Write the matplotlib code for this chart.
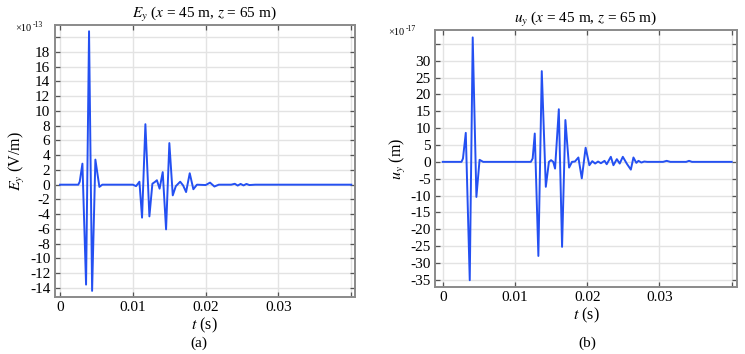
import numpy as np
import matplotlib
matplotlib.use("Agg")
import matplotlib.pyplot as plt

# --- data (Ey in 1e-13 V/m, uy in 1e-17 m) ---
t_e = [0, 0.0025, 0.0027, 0.00307, 0.00357, 0.00398, 0.0044, 0.00485, 0.0054, 0.0058,
       0.0100, 0.01044, 0.0109, 0.01126, 0.01172, 0.01227, 0.01268, 0.0130, 0.0133,
       0.01367, 0.0141, 0.01456, 0.01501, 0.01548, 0.0159, 0.0165, 0.0169, 0.01731,
       0.01781, 0.01831, 0.0188, 0.0200, 0.0206, 0.0212, 0.0218, 0.0235, 0.0240,
       0.0244, 0.0248, 0.0252, 0.0256, 0.0260, 0.0268, 0.0400]
ey = [0, 0, 0.4, 2.85, -13.55, 20.8, -14.4, 3.4, -0.3, 0,
      0, -0.2, 0.4, -4.47, 8.2, -4.3, 0.13, 0.35, 0.6,
      -0.54, 1.7, -6.06, 5.64, -1.45, -0.2, 0.4, -0.1, -1.0,
      1.55, -0.62, 0, -0.05, 0.28, -0.25, 0, 0, 0.12,
      -0.12, 0.1, -0.1, 0.1, -0.05, 0, 0]

t_u = [0, 0.0026, 0.0028, 0.00319, 0.00374, 0.00415, 0.00466, 0.0051, 0.0056,
       0.0122, 0.01245, 0.01274, 0.01324, 0.01371, 0.01427, 0.0147, 0.0150, 0.0153,
       0.01555, 0.01607, 0.01652, 0.01698, 0.01749, 0.0179, 0.0183, 0.01878,
       0.01925, 0.01978, 0.0203, 0.0207, 0.0211, 0.0215, 0.0219, 0.0224, 0.0227,
       0.02327, 0.02363, 0.0241, 0.0245, 0.02493, 0.0255, 0.02604, 0.0264,
       0.0268, 0.0271, 0.0275, 0.0279, 0.0283, 0.0305, 0.0310, 0.0315,
       0.0337, 0.0341, 0.0345, 0.0400]
uy = [0, 0, 1.0, 8.6, -35.1, 36.9, -10.4, 0.6, 0,
      0, 1.0, 8.4, -27.9, 26.9, -7.4, 0, 0.5, 0,
      -2.0, 15.6, -25.2, 12.4, -1.7, 0, 0.1, 1.3,
      -4.9, 4.2, -1.0, 0.2, -0.5, 0.1, -0.4, 0.3, -0.7,
      1.5, -1.0, 0.8, -0.5, 1.5, -0.6, -2.3, 1.3,
      -0.3, 0.3, -0.2, 0.1, 0, 0, 0.3, 0,
      0, 0.3, 0, 0]

x_ticks = [0, 0.01, 0.02, 0.03, 0.04]
x_labels = ["0", "0.01", "0.02", "0.03", ""]
ey_ticks = list(range(-14, 21, 2))
uy_ticks = list(range(-35, 36, 5))

plt.rcParams["font.family"] = ["Liberation Serif", "DejaVu Serif"]
plt.rcParams["mathtext.fontset"] = "stix"

LINE = "#2450f2"
GRID = "#e3e3e3"
SPINE = "#8a8a8a"

fig = plt.figure(figsize=(7.45, 3.54), dpi=100)
ax1 = fig.add_axes([0.0732, 0.161, 0.4034, 0.7684])
ax2 = fig.add_axes([0.5839, 0.1893, 0.405, 0.726])


def style(ax, yticks, xlim, ylim):
    ax.set_xlim(*xlim)
    ax.set_ylim(*ylim)
    ax.set_xticks(x_ticks)
    ax.set_xticklabels(x_labels)
    ax.set_yticks(yticks)
    ax.set_yticklabels([str(v) for v in yticks[:-1]] + [""])
    ax.grid(True, color=GRID, lw=1.0)
    ax.set_axisbelow(True)
    ax.tick_params(direction="in", top=True, right=True, length=3.5,
                   width=0.9, color="#555555", labelsize=11, pad=3)
    for s in ax.spines.values():
        s.set_color(SPINE)
        s.set_linewidth(1.4)


ax1.plot(t_e, ey, color=LINE, lw=1.4)
style(ax1, ey_ticks, (-0.00076, 0.04052), (-15.23, 21.65))
ax1.set_title(r"$E_y$ ($x$ = 45 m, $z$ = 65 m)", fontsize=11, pad=5)
ax1.set_ylabel(r"$E_y$ (V/m)", fontsize=11.5, labelpad=2)
ax1.set_xlabel(r"$t$ (s)", fontsize=11.5, labelpad=1)
fig.text(15 / 745, 1 - 31 / 354, "×10", fontsize=7.5)
fig.text(32.5 / 745, 1 - 27 / 354, "-13", fontsize=5.5)
fig.text(199 / 745, 1 - 343 / 354, "(a)", fontsize=11, ha="center", va="center")

ax2.plot(t_u, uy, color=LINE, lw=1.4)
style(ax2, uy_ticks, (-0.00107, 0.0407), (-37.1, 39.1))
ax2.set_title(r"$u_y$ ($x$ = 45 m, $z$ = 65 m)", fontsize=11, pad=5)
ax2.set_ylabel(r"$u_y$ (m)", fontsize=11.5, labelpad=2)
ax2.set_xlabel(r"$t$ (s)", fontsize=11.5, labelpad=1)
fig.text(388 / 745, 1 - 35 / 354, "×10", fontsize=7.5)
fig.text(405.5 / 745, 1 - 31 / 354, "-17", fontsize=5.5)
fig.text(587 / 745, 1 - 343 / 354, "(b)", fontsize=11, ha="center", va="center")

fig.savefig("out.png", dpi=100)
